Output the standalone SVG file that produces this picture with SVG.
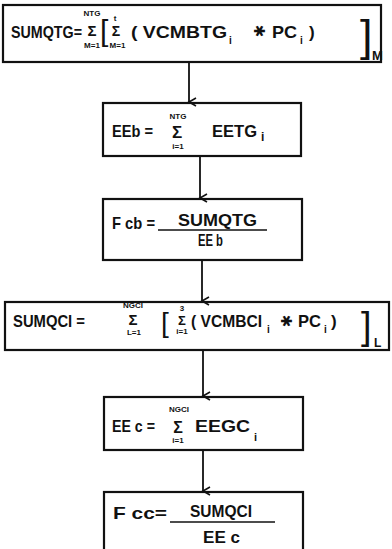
<svg xmlns="http://www.w3.org/2000/svg" width="392" height="549" viewBox="0 0 392 549">
<defs>
<style>
.bx{fill:none;stroke:#111;stroke-width:2.2}
.cn{fill:none;stroke:#111;stroke-width:1.8}
.bar{stroke:#111;stroke-width:1.6}
text{font-family:"Liberation Sans",Arial,"DejaVu Sans",sans-serif;fill:#111;font-weight:bold}
.m{font-size:17px}
.lim{font-size:8px;text-anchor:middle}
.sg{text-anchor:middle}
.sub{font-size:10px}
.br{font-weight:normal}
.st{font-family:"DejaVu Sans",sans-serif;font-size:15px;text-anchor:middle}
</style>
<marker id="ah" markerWidth="12" markerHeight="12" refX="6" refY="9" orient="auto" markerUnits="userSpaceOnUse" viewBox="0 0 12 12">
<path d="M2,2 L6,9 L10,2" fill="none" stroke="#111" stroke-width="1.6"/>
</marker>
</defs>
<rect width="392" height="549" fill="#fff"/>

<g id="connectors">
<line class="cn" x1="189" y1="62" x2="189" y2="102" marker-end="url(#ah)"/>
<line class="cn" x1="200" y1="156" x2="200" y2="198" marker-end="url(#ah)"/>
<line class="cn" x1="202" y1="260" x2="202" y2="301" marker-end="url(#ah)"/>
<line class="cn" x1="203" y1="350" x2="203" y2="396" marker-end="url(#ah)"/>
<line class="cn" x1="203" y1="450" x2="203" y2="491" marker-end="url(#ah)"/>
</g>

<g id="sumqtg">
<rect class="bx" x="3" y="5" width="378" height="57"/>
<text class="m" x="11" y="38" textLength="71" lengthAdjust="spacingAndGlyphs">SUMQTG=</text>
<text class="lim" x="92" y="16">NTG</text>
<text class="sg" x="92" y="36" font-size="15">Σ</text>
<text class="lim" x="92" y="48">M=1</text>
<text class="br" x="100" y="41" font-size="30">[</text>
<text class="lim" x="115" y="21">t</text>
<text class="sg" x="116" y="36" font-size="14">Σ</text>
<text class="lim" x="117.5" y="48">M=1</text>
<text class="m" x="131" y="38" textLength="96" lengthAdjust="spacingAndGlyphs">( VCMBTG</text>
<text class="sub" x="229" y="44">i</text>
<text class="st" x="0" y="0" transform="translate(259,31) rotate(90)" dy="5">✱</text>
<text class="m" x="272" y="38" textLength="25" lengthAdjust="spacingAndGlyphs">PC</text>
<text class="sub" x="300" y="44">i</text>
<text class="m" x="309" y="38">)</text>
<text class="br" x="360" y="51" font-size="45">]</text>
<text x="372" y="60" font-size="13">M</text>
</g>

<g id="eeb">
<rect class="bx" x="103" y="103" width="198" height="53"/>
<text class="m" x="112" y="137" textLength="41" lengthAdjust="spacingAndGlyphs">EEb =</text>
<text class="lim" x="178" y="119" font-size="9">NTG</text>
<text class="sg" x="177" y="138" font-size="17">Σ</text>
<text class="lim" x="178" y="149">i=1</text>
<text class="m" x="212" y="137" textLength="45" lengthAdjust="spacingAndGlyphs">EETG</text>
<text x="261" y="141" font-size="12">i</text>
</g>

<g id="fcb">
<rect class="bx" x="103" y="199" width="199" height="61"/>
<text class="m" x="112" y="229" textLength="43" lengthAdjust="spacingAndGlyphs">F cb =</text>
<line class="bar" x1="158" y1="230" x2="267" y2="230"/>
<text class="m" x="178" y="226" textLength="79" lengthAdjust="spacingAndGlyphs">SUMQTG</text>
<text class="m" x="198" y="246" textLength="25" lengthAdjust="spacingAndGlyphs">EE b</text>
</g>

<g id="sumqci">
<rect class="bx" x="5" y="302" width="384" height="48"/>
<text class="m" x="13" y="327" textLength="72" lengthAdjust="spacingAndGlyphs">SUMQCI =</text>
<text class="lim" x="133" y="308" font-size="9">NGCI</text>
<text class="sg" x="133" y="325" font-size="15">Σ</text>
<text class="lim" x="134" y="335">L=1</text>
<text class="br" x="161" y="332" font-size="28">[</text>
<text class="lim" x="182" y="311" font-size="9">3</text>
<text class="sg" x="182" y="325" font-size="13">Σ</text>
<text class="lim" x="182" y="334">i=1</text>
<text class="m" x="191" y="327" textLength="71" lengthAdjust="spacingAndGlyphs">( VCMBCI</text>
<text class="sub" x="267" y="333">i</text>
<text class="st" x="0" y="0" transform="translate(286,321) rotate(90)" dy="5">✱</text>
<text class="m" x="298" y="327" textLength="23" lengthAdjust="spacingAndGlyphs">PC</text>
<text class="sub" x="324" y="333">i</text>
<text class="m" x="331" y="327">)</text>
<text class="br" x="361" y="339" font-size="38">]</text>
<text x="374" y="347" font-size="12">L</text>
</g>

<g id="eec">
<rect class="bx" x="104" y="397" width="199" height="53"/>
<text class="m" x="112" y="432" textLength="43" lengthAdjust="spacingAndGlyphs">EE c =</text>
<text class="lim" x="179" y="412" font-size="9">NGCI</text>
<text class="sg" x="178" y="433" font-size="16">Σ</text>
<text class="lim" x="178" y="443">i=1</text>
<text class="m" x="195" y="432" textLength="55" lengthAdjust="spacingAndGlyphs">EEGC</text>
<text x="254" y="441" font-size="11">i</text>
</g>

<g id="fcc">
<rect class="bx" x="104" y="492" width="199" height="70"/>
<text class="m" x="113" y="519" textLength="54" lengthAdjust="spacingAndGlyphs">F cc=</text>
<line class="bar" x1="170" y1="522" x2="275" y2="522"/>
<text class="m" x="190" y="517" textLength="62" lengthAdjust="spacingAndGlyphs">SUMQCI</text>
<text class="m" x="203" y="543" textLength="37" lengthAdjust="spacingAndGlyphs">EE c</text>
</g>
</svg>
